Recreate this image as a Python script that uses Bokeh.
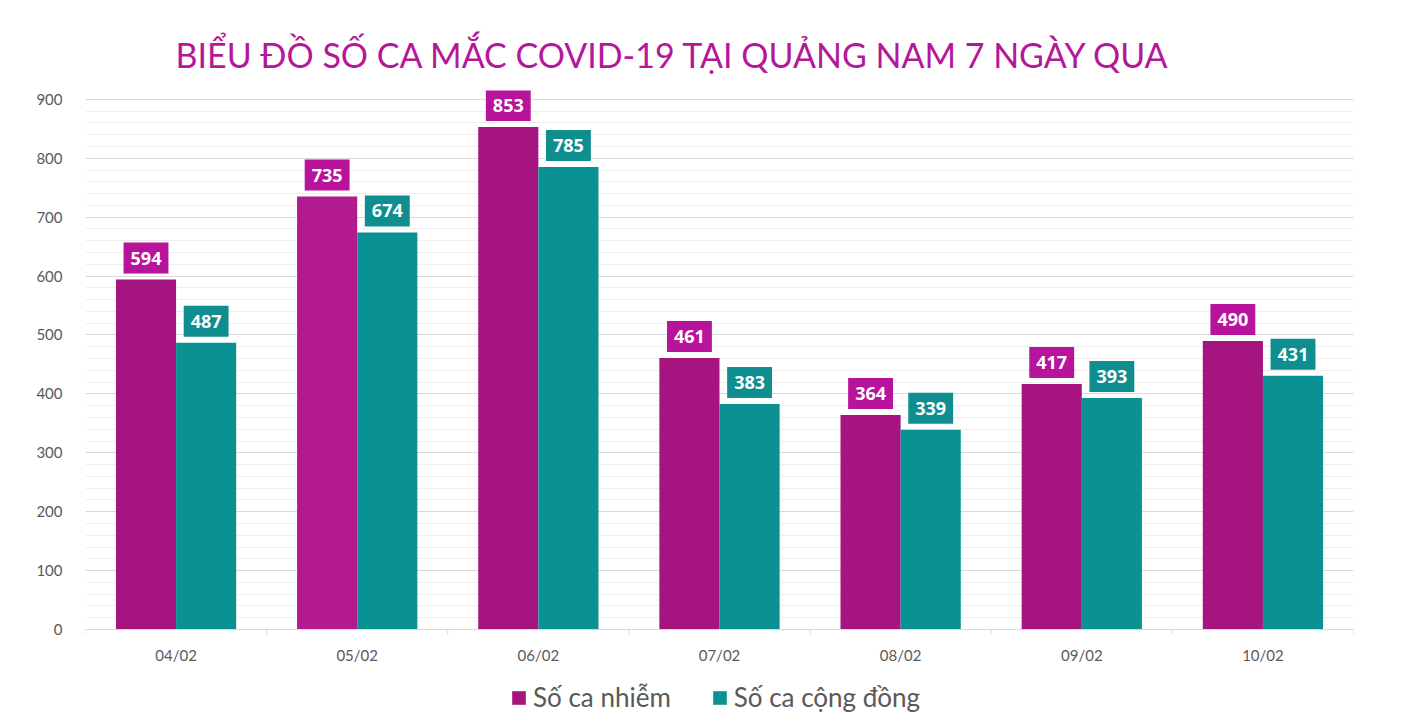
import math
from bokeh.plotting import figure
from bokeh.models import (ColumnDataSource, Range1d, SingleIntervalTicker, Legend, LegendItem, Span)
from bokeh.transform import dodge
from bokeh.core.properties import value
from bokeh.embed import file_html
from bokeh.resources import INLINE

dates = ["04/02", "05/02", "06/02", "07/02", "08/02", "09/02", "10/02"]
infected = [594, 735, 853, 461, 364, 417, 490]
community = [487, 674, 785, 383, 339, 393, 431]
series_names = ["Số ca nhiễm", "Số ca cộng đồng"]
title_text = "BIỂU ĐỒ SỐ CA MẮC COVID-19 TẠI QUẢNG NAM 7 NGÀY QUA"

MAGENTA = "#A5147F"
MAGENTA_HI = "#B21A8E"   # the highlighted (selected) 05/02 bar in the source
MAGENTA_BOX = "#B8139B"
TEAL = "#0A9292"
TEAL_BOX = "#0E8E8E"
TXT = "#595959"
AXIS = "#D9D9D9"
FONT = "Lato"

n = len(dates)
idx = list(range(n))
bounds = [i - 0.5 for i in range(n + 1)]
src = ColumnDataSource(dict(
    idx=idx, dates=dates, infected=infected, community=community,
    infected_str=[str(v) for v in infected],
    community_str=[str(v) for v in community],
    inf_color=[MAGENTA_HI if d == "05/02" else MAGENTA for d in dates],
    zero=[0] * n,
))
bsrc = ColumnDataSource(dict(b=bounds, zero=[0] * len(bounds)))

# frame extends below the zero line (labels, legend) and a little above 900 (top value box)
p = figure(width=1403, height=718, x_range=Range1d(-0.5, n - 0.5),
           y_range=Range1d(-151, 915), output_backend="svg", toolbar_location=None,
           x_axis_location=None, min_border_left=85, min_border_right=50,
           min_border_top=90, min_border_bottom=0)
p.outline_line_color = None
p.background_fill_color = "white"
p.border_fill_color = "white"

p.title.text = title_text
p.title.align = "left"
p.title.offset = 90
p.title.standoff = 31
p.title.text_font = FONT
p.title.text_font_size = "34px"
p.title.text_font_style = "normal"
p.title.text_color = "#B4179A"

# y axis
p.yaxis.ticker = SingleIntervalTicker(interval=100, num_minor_ticks=5)
p.yaxis.bounds = (0, 900)
p.yaxis.axis_line_color = None
p.yaxis.major_tick_line_color = None
p.yaxis.minor_tick_line_color = None
p.yaxis.major_label_text_font = FONT
p.yaxis.major_label_text_font_size = "15px"
p.yaxis.major_label_text_color = TXT
p.yaxis.major_label_standoff = 17
p.ygrid.grid_line_color = AXIS
p.ygrid.minor_grid_line_color = "#EEEEEE"
p.xgrid.grid_line_color = None

r1 = p.vbar(x=dodge("idx", -0.166), top="infected", width=0.332,
            source=src, fill_color="inf_color", line_color=None)
r2 = p.vbar(x=dodge("idx", 0.166), top="community", width=0.332,
            source=src, fill_color=TEAL, line_color=None)

# category axis line, boundary ticks and labels
p.add_layout(Span(location=0, dimension="width", line_color=AXIS, line_width=1))
p.ray(x="b", y="zero", length=5, length_units="screen", angle=-math.pi / 2,
      source=bsrc, line_color=AXIS, line_width=1)
p.text(x="idx", y="zero", text="dates", source=src, text_font=value(FONT),
       text_font_size="15px", text_color=TXT, text_align="center",
       text_baseline="middle", y_offset=25)

pad = dict(left=7, right=7, top=9, bottom=9)
p.text(x=dodge("idx", -0.166), y="infected", text="infected_str", source=src,
       text_color="white", text_font=value("Open Sans"), text_font_style="bold",
       text_font_size="18px", text_align="center", text_baseline="bottom", y_offset=-6,
       background_fill_color=MAGENTA_BOX, padding=pad)
p.text(x=dodge("idx", 0.166), y="community", text="community_str", source=src,
       text_color="white", text_font=value("Open Sans"), text_font_style="bold",
       text_font_size="18px", text_align="center", text_baseline="bottom", y_offset=-6,
       background_fill_color=TEAL_BOX, padding=pad)

legend = Legend(items=[LegendItem(label=series_names[0], renderers=[r1]),
                       LegendItem(label=series_names[1], renderers=[r2])],
                orientation="horizontal", location=(425, 5),
                glyph_width=17, glyph_height=17, label_text_font=FONT,
                label_text_font_size="26px", label_text_color=TXT, label_standoff=6,
                spacing=40, padding=0, margin=0, border_line_color=None,
                background_fill_alpha=0)
p.add_layout(legend, "center")

open("out.html", "w").write(file_html(p, INLINE))
